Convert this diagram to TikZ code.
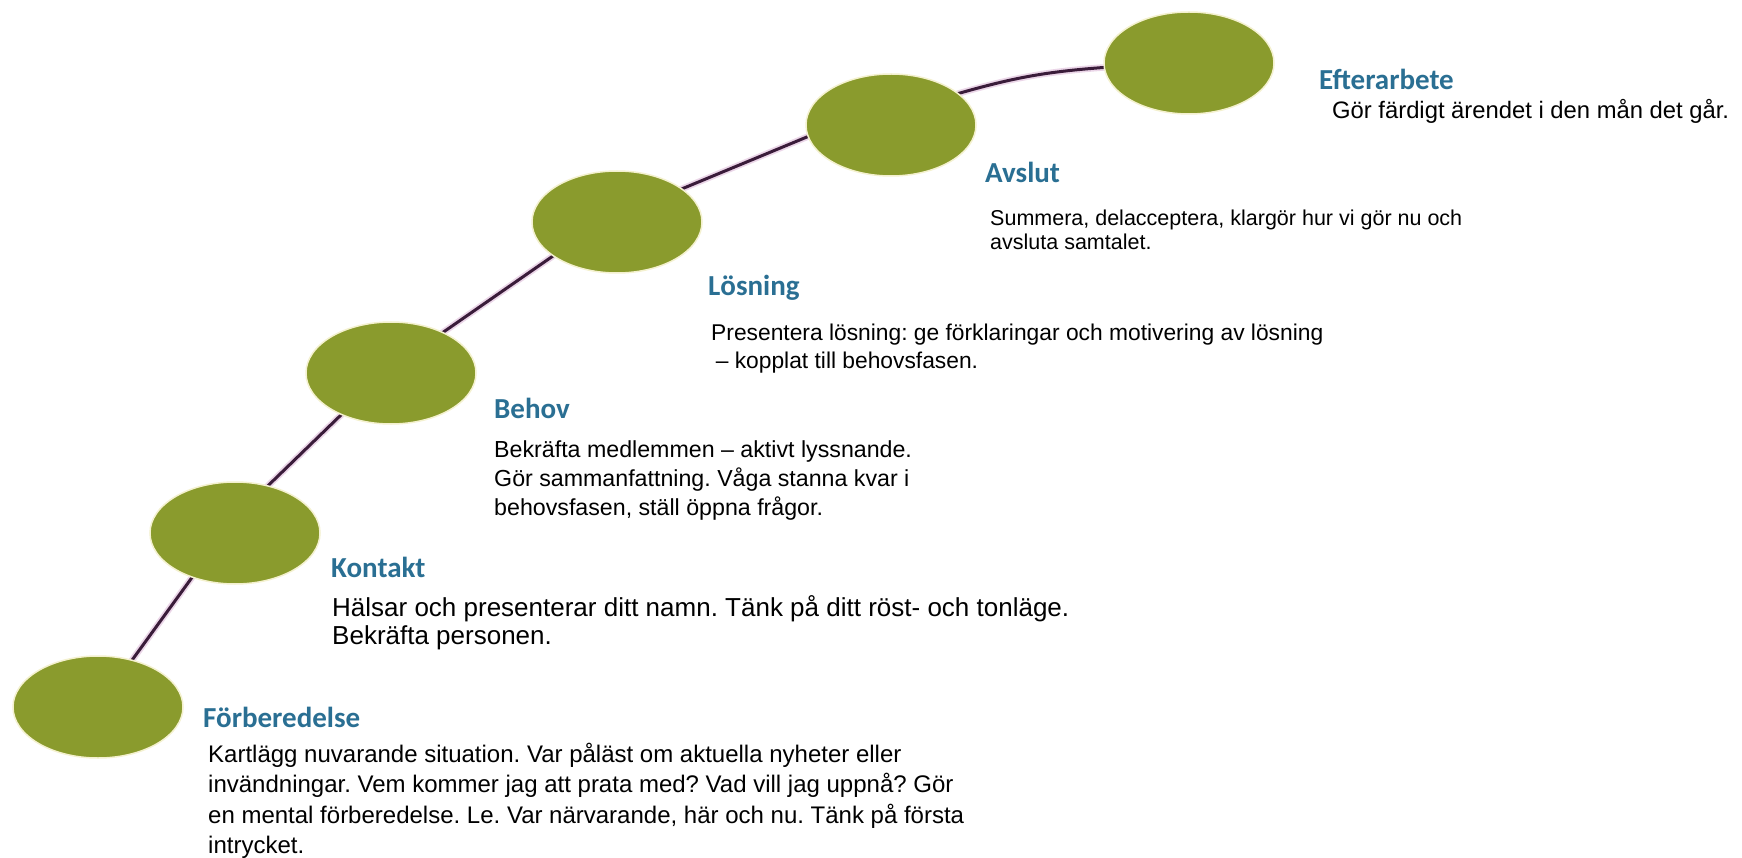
\documentclass[tikz,border=0pt]{standalone}
\usepackage{fontspec}
\setmainfont{Liberation Sans}
\newfontfamily\hdfont{Carlito}
\usetikzlibrary{shapes.geometric}
\definecolor{ellgreen}{HTML}{8A9B2D}
\definecolor{ellhalo}{HTML}{F4F1CF}
\definecolor{headblue}{HTML}{2A6F93}
\definecolor{lineclr}{HTML}{3A1C3A}
\definecolor{linehalo}{HTML}{EBD6E8}
\pgfdeclarelayer{back}
\pgfdeclarelayer{mid}
\pgfsetlayers{back,mid,main}
\frenchspacing
\begin{document}
\frenchspacing
\begin{tikzpicture}[x=1pt,y=-1pt,
  stage/.style={ellipse, fill=ellgreen, draw=ellhalo, line width=1.5pt,
    minimum width=170pt, minimum height=102pt, inner sep=0pt},
  head/.style={anchor=base west, inner sep=0pt,
    font=\hdfont\bfseries\fontsize{29}{34}\selectfont, text=headblue},
  body/.style={anchor=base west, inner sep=0pt, text=black},
  halo/.style={draw=linehalo, line width=6.5pt, shorten <=-4pt, shorten >=-4pt},
  curve/.style={draw=lineclr, line width=3pt, shorten <=-4pt, shorten >=-4pt}]
\begin{pgfonlayer}{back}
\fill[white] (0,0) rectangle (1742,858);
\end{pgfonlayer}
\useasboundingbox (0,0) rectangle (1742,858);

\node[stage] (f) at (98,707) {};
\node[stage] (k) at (235,533) {};
\node[stage] (b) at (391,373) {};
\node[stage] (l) at (617,222) {};
\node[stage] (a) at (891,125) {};
\node[stage] (e) at (1189,63) {};

\begin{pgfonlayer}{mid}
\foreach \s in {halo,curve}{
  \draw[\s] (f.54) -- (k.226);
  \draw[\s] (k.55) -- (b.220);
  \draw[\s] (b.38) -- (l.208);
  \draw[\s] (l.27) -- (a.188);
  \draw[\s] (a.25) to[bend left=6] (e.183);
}
\end{pgfonlayer}

\node[head] (he) at (1319,90) {Efterarbete};
\node[body, font=\fontsize{23.8}{28}\selectfont] (te) at (1332,119) {Gör färdigt ärendet i den mån det går.};

\node[head] (ha) at (985,183) {Avslut};
\node[body, font=\fontsize{21.5}{24}\selectfont] (ta) at (990,226)
  {\begin{tabular}[t]{@{}l@{}}Summera, delacceptera, klargör hur vi gör nu och\\avsluta samtalet.\end{tabular}};

\node[head] (hl) at (708,296) {Lösning};
\node[body, font=\fontsize{22.8}{28}\selectfont] (tl) at (711,341)
  {\begin{tabular}[t]{@{}l@{}}Presentera lösning: ge förklaringar och motivering av lösning\\\hspace*{0.2em}– kopplat till behovsfasen.\end{tabular}};

\node[head] (hb) at (494,418) {Behov};
\node[body, font=\fontsize{23.2}{29}\selectfont] (tb) at (494,457)
  {\begin{tabular}[t]{@{}l@{}}Bekräfta medlemmen – aktivt lyssnande.\\Gör sammanfattning. Våga stanna kvar i\\behovsfasen, ställ öppna frågor.\end{tabular}};

\node[head] (hk) at (331,577) {Kontakt};
\node[body, font=\fontsize{26}{28}\selectfont] (tk) at (332,616)
  {\begin{tabular}[t]{@{}l@{}}Hälsar och presenterar ditt namn. Tänk på ditt röst- och tonläge.\\Bekräfta personen.\end{tabular}};

\node[head] (hf) at (203,727) {Förberedelse};
\node[body, font=\fontsize{24}{30.5}\selectfont] (tf) at (208,762)
  {\begin{tabular}[t]{@{}l@{}}Kartlägg nuvarande situation. Var påläst om aktuella nyheter eller\\invändningar. Vem kommer jag att prata med? Vad vill jag uppnå? Gör\\en mental förberedelse. Le. Var närvarande, här och nu. Tänk på första\\intrycket.\end{tabular}};
\end{tikzpicture}
\end{document}
